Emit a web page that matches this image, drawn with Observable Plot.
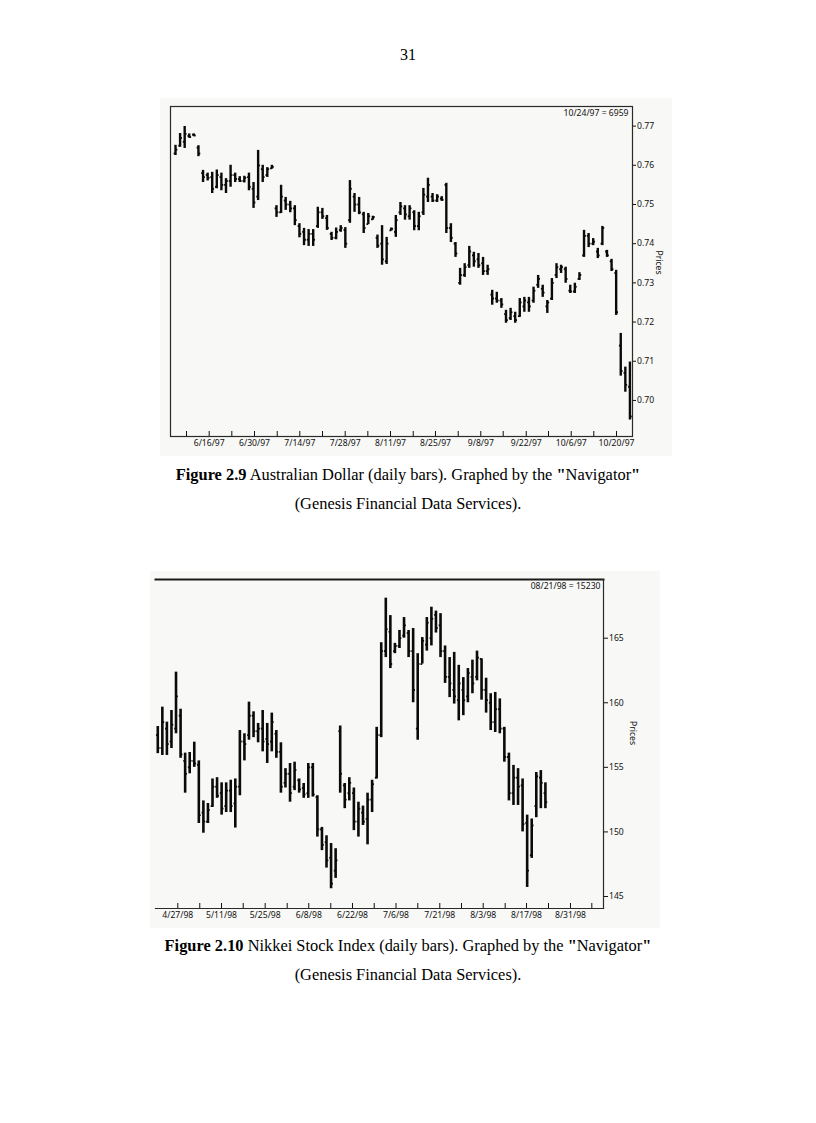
<!DOCTYPE html>
<html><head><meta charset="utf-8">
<script src="https://cdn.jsdelivr.net/npm/d3@7"></script>
<script src="https://cdn.jsdelivr.net/npm/@observablehq/plot@0.6"></script>
<style>
html,body{margin:0;padding:0;background:#fff;}
#page{position:relative;width:816px;height:1123px;overflow:hidden;background:#fff;}
.pn{position:absolute;left:0;width:816px;top:44px;text-align:center;font:16px "Liberation Serif","Times New Roman",serif;line-height:22px;color:#000;}
.cap{position:absolute;left:0;width:816px;text-align:center;font:16.4px "Liberation Serif","Times New Roman",serif;line-height:29px;color:#000;}
.chart{position:absolute;}
.chart svg{display:block;}
</style></head>
<body><div id="page">
<div class="pn">31</div>
<div class="chart" id="c1" style="left:160px;top:98px;"></div>
<div class="cap" style="top:460px;"><b>Figure 2.9</b> Australian Dollar (daily bars). Graphed by the <b>"</b>Navigator<b>"</b><br>(Genesis Financial Data Services).</div>
<div class="chart" id="c2" style="left:150px;top:571px;"></div>
<div class="cap" style="top:931px;"><b>Figure 2.10</b> Nikkei Stock Index (daily bars). Graphed by the <b>"</b>Navigator<b>"</b><br>(Genesis Financial Data Services).</div>
</div>
<script>
// ---------- Figure 2.9 : Australian Dollar daily bars ----------
const high1 = [.7651,.7681,.7699,.7680,.7680,.7650,.7587,.7580,.7582,.7588,
.7580,.7566,.7600,.7580,.7571,.7572,.7580,.7556,.7638,.7600,
.7594,.7600,.7497,.7549,.7518,.7508,.7497,.7451,.7439,.7436,
.7436,.7493,.7490,.7472,.7429,.7440,.7446,.7441,.7561,.7528,
.7518,.7480,.7477,.7470,.7422,.7446,.7416,.7440,.7472,.7505,
.7497,.7497,.7484,.7480,.7541,.7567,.7528,.7525,.7520,.7554,
.7451,.7403,.7337,.7349,.7393,.7378,.7375,.7365,.7345,.7281,
.7276,.7260,.7230,.7235,.7225,.7260,.7263,.7263,.7289,.7319,
.7294,.7255,.7311,.7349,.7345,.7340,.7294,.7299,.7326,.7434,
.7426,.7413,.7388,.7444,.7383,.7360,.7332,.7171,.7085,.7098];
const low1 = [.7625,.7646,.7643,.7669,.7673,.7622,.7556,.7560,.7528,.7540,
.7535,.7528,.7544,.7556,.7556,.7555,.7535,.7490,.7510,.7556,
.7569,.7590,.7467,.7477,.7485,.7479,.7446,.7415,.7395,.7393,
.7393,.7439,.7462,.7434,.7408,.7410,.7429,.7388,.7452,.7480,
.7474,.7426,.7449,.7460,.7388,.7345,.7347,.7432,.7416,.7472,
.7460,.7460,.7433,.7433,.7472,.7505,.7505,.7505,.7508,.7426,
.7403,.7365,.7294,.7314,.7337,.7340,.7337,.7319,.7319,.7243,
.7248,.7235,.7197,.7204,.7197,.7212,.7225,.7225,.7248,.7286,
.7263,.7222,.7255,.7311,.7324,.7299,.7273,.7273,.7306,.7365,
.7390,.7395,.7362,.7395,.7365,.7329,.7217,.7062,.7021,.6950];
const open1 = [.7630,.7650,.7660,.7675,.7678,.7645,.7580,.7575,.7570,.7545,
.7570,.7550,.7560,.7575,.7565,.7560,.7570,.7540,.7520,.7590,
.7575,.7592,.7490,.7480,.7510,.7500,.7490,.7445,.7430,.7410,
.7425,.7445,.7480,.7465,.7425,.7415,.7435,.7435,.7460,.7520,
.7500,.7475,.7450,.7462,.7415,.7400,.7355,.7434,.7430,.7480,
.7490,.7470,.7480,.7445,.7480,.7520,.7520,.7510,.7515,.7550,
.7440,.7400,.7300,.7320,.7345,.7370,.7360,.7350,.7330,.7270,
.7260,.7255,.7220,.7210,.7215,.7215,.7240,.7250,.7255,.7295,
.7285,.7240,.7260,.7320,.7335,.7335,.7280,.7278,.7310,.7370,
.7420,.7400,.7380,.7400,.7380,.7355,.7325,.7140,.7070,.7035];
const close1 = [.7640,.7670,.7680,.7672,.7676,.7630,.7570,.7568,.7540,.7575,
.7550,.7560,.7575,.7565,.7560,.7568,.7545,.7505,.7600,.7570,
.7590,.7596,.7480,.7520,.7500,.7490,.7460,.7425,.7410,.7425,
.7410,.7480,.7470,.7440,.7415,.7430,.7440,.7400,.7540,.7500,
.7480,.7440,.7470,.7468,.7395,.7360,.7400,.7438,.7460,.7495,
.7475,.7490,.7445,.7470,.7525,.7550,.7510,.7520,.7512,.7440,
.7415,.7375,.7320,.7340,.7380,.7355,.7345,.7330,.7335,.7260,
.7255,.7245,.7205,.7225,.7205,.7250,.7255,.7240,.7280,.7310,
.7275,.7250,.7300,.7340,.7340,.7310,.7278,.7290,.7320,.7420,
.7400,.7405,.7370,.7440,.7370,.7335,.7225,.7075,.7040,.6959];
// week tick positions (in bar-index units) and labelled dates
const weekTicks1 = [3.40,8.34,13.27,18.21,23.16,28.08,33.03,37.97,42.90,47.84,52.79,57.64,62.59,67.51,72.39,77.41,82.26,87.21,92.13,97.08];
const labelTicks1 = [8.34,18.21,28.08,37.97,47.84,57.64,67.51,77.41,87.21,97.08];
const labels1 = ["6/16/97","6/30/97","7/14/97","7/28/97","8/11/97","8/25/97","9/8/97","9/22/97","10/6/97","10/20/97"];
const yTicks1 = [0.70,0.71,0.72,0.73,0.74,0.75,0.76,0.77];
const lastNote1 = "10/24/97 = 6959";

// ---------- Figure 2.10 : Nikkei daily bars ----------
const high2 = [158.16,159.66,158.5,159.4,162.37,159.5,156.1,156.15,156.95,155.5,
152.4,152.2,154.1,154.2,153.8,153.8,154.0,154.1,157.85,157.6,
160.05,159.3,158.4,159.4,158.4,159.2,157.85,156.9,154.9,155.3,
155.4,154.1,153.75,155.3,155.3,152.8,150.35,149.7,149.1,148.7,
158.2,153.75,154.2,153.4,152.3,152.0,153.0,154.0,158.1,164.65,
168.1,166.75,164.6,165.6,166.6,165.6,165.75,163.8,165.05,166.6,
167.4,167.1,166.9,164.4,163.5,163.9,162.9,161.95,162.65,163.3,
164.0,163.4,161.9,160.7,160.8,160.3,158.1,156.1,155.15,154.9,
154.1,151.3,151.0,154.6,154.75,153.8];
const low2 = [156.06,155.92,155.92,156.46,157.6,155.7,153.0,154.5,155.0,150.65,
149.9,150.65,151.9,152.6,151.3,151.5,151.5,150.3,152.8,155.5,
157.1,157.3,156.9,156.2,155.3,156.2,155.7,153.0,153.4,152.3,
153.2,153.0,152.6,152.6,152.7,149.6,148.55,147.2,145.6,146.4,
153.0,151.8,152.4,150.1,149.6,150.5,149.0,151.5,154.1,157.3,
163.5,162.65,163.8,164.2,165.0,163.5,160.0,157.1,163.0,164.0,
164.4,165.4,163.5,161.5,160.4,159.9,158.6,159.0,160.0,160.7,
161.7,160.2,159.2,157.85,157.7,157.6,155.4,152.4,152.05,152.05,
150.0,145.7,147.95,151.1,151.8,151.8];
const open2 = [157.5,156.5,158.0,157.0,158.0,159.0,155.5,155.0,155.5,155.2,
151.5,150.8,152.0,153.5,153.0,152.0,153.2,152.2,153.5,157.0,
157.5,159.0,157.8,158.0,157.2,157.0,157.6,156.2,153.8,154.5,
153.5,154.0,153.4,153.0,155.0,152.7,150.2,149.2,148.0,147.0,
157.8,153.6,153.0,153.0,150.8,151.5,151.0,152.5,154.2,157.5,
164.0,165.5,164.0,164.4,165.2,165.4,164.0,158.0,163.0,164.5,
165.0,166.8,166.0,164.0,162.0,161.0,160.2,161.0,160.5,162.0,
162.0,163.4,161.0,160.0,158.5,159.5,158.0,155.8,153.0,154.2,
153.6,150.7,148.2,152.0,154.2,153.0];
const close2 = [156.5,158.5,156.8,158.3,160.5,156.0,154.5,155.5,155.3,151.3,
150.8,151.7,153.5,152.8,151.8,153.2,152.0,153.5,157.0,156.8,
159.0,157.8,158.0,157.0,156.8,158.5,156.2,153.5,154.5,153.0,
154.8,153.3,152.9,155.0,152.9,150.2,149.0,147.8,146.0,147.8,
154.5,152.5,153.8,150.8,151.8,150.8,152.5,153.7,157.5,164.0,
165.7,163.0,164.4,165.0,166.0,164.0,161.0,163.0,164.8,166.2,
166.5,165.8,164.0,162.0,161.5,160.5,161.5,160.2,162.3,161.5,
163.5,161.0,160.2,158.5,159.5,158.0,155.8,153.0,154.2,153.5,
150.6,147.0,150.5,154.3,153.8,152.3];
const weekTicks2 = [5.39,10.21,14.97,19.73,24.55,29.38,34.11,38.94,43.70,48.46,53.24,58.02,62.84,67.60,72.36,77.18,81.86,86.68,91.50,96.18];
const labelTicks2 = [5.39,14.97,24.55,34.11,43.70,53.24,62.84,72.36,81.86,91.50];
const labels2 = ["4/27/98","5/11/98","5/25/98","6/8/98","6/22/98","7/6/98","7/21/98","8/3/98","8/17/98","8/31/98"];
const yTicks2 = [145,150,155,160,165];
const lastNote2 = "08/21/98 = 15230";

const yTitle = "Prices";

function rows(h, l, o, c) {
  return h.map((v, k) => ({i: k + 1, high: v, low: l[k], open: o[k], close: c[k]}));
}

function chart(cfg) {
  const data = rows(cfg.high, cfg.low, cfg.open, cfg.close);
  const frameMarks = cfg.fullFrame
    ? [Plot.frame({stroke: "#2a2a2a", strokeWidth: 1.2})]
    : [Plot.frame({anchor: "top", stroke: "#1a1a1a", strokeWidth: 2}),
       Plot.frame({anchor: "right", stroke: "#2a2a2a", strokeWidth: 1.2}),
       Plot.frame({anchor: "bottom", stroke: "#2a2a2a", strokeWidth: 1.2})];
  return Plot.plot({
    width: cfg.width, height: cfg.height,
    marginLeft: cfg.ml, marginRight: cfg.mr, marginTop: cfg.mt, marginBottom: cfg.mb,
    style: {background: "#f8f8f6", fontFamily: "'Noto Sans', 'DejaVu Sans', sans-serif", fontSize: "8.6px", color: "#111", overflow: "visible"},
    x: {type: "linear", domain: cfg.xDomain},
    y: {type: "linear", domain: cfg.yDomain},
    marks: [
      ...frameMarks,
      Plot.axisY(cfg.yTicks, {anchor: "right", tickSize: cfg.yTickSize, tickPadding: 1.5, tickFormat: cfg.yFormat, label: null}),
      Plot.axisX(cfg.weekTicks, {anchor: "bottom", tickSize: -5, tickFormat: () => "", label: null}),
      Plot.axisX(cfg.labelTicks, {anchor: "bottom", tickSize: 0, tickPadding: 3.5, tickFormat: d => cfg.labels[cfg.labelTicks.indexOf(d)], label: null}),
      Plot.ruleX(data, {x: "i", y1: "low", y2: "high", stroke: "#0a0a0a", strokeWidth: cfg.barWidth}),
      Plot.link(data, {x1: d => d.i - 0.4, x2: "i", y1: "open", y2: "open", stroke: "#0a0a0a", strokeWidth: 1.8}),
      Plot.link(data, {x1: "i", x2: d => d.i + 0.4, y1: "close", y2: "close", stroke: "#0a0a0a", strokeWidth: 1.8}),
      Plot.text([cfg.note], {frameAnchor: "top-right", dx: cfg.noteDx, dy: 7, lineAnchor: "middle", text: d => d}),
      Plot.text([yTitle], {frameAnchor: "right", dx: cfg.titleDx, dy: cfg.titleDy, rotate: 90, text: d => d})
    ]
  });
}

document.getElementById("c1").appendChild(chart({
  high: high1, low: low1, open: open1, close: close1,
  width: 512, height: 358, ml: 10, mr: 40, mt: 8, mb: 20,
  xDomain: [-0.09, 100.56], yDomain: [0.6908, 0.7750],
  yTicks: yTicks1, yFormat: d3.format(".2f"), yTickSize: 3,
  weekTicks: weekTicks1, labelTicks: labelTicks1, labels: labels1,
  note: lastNote1, noteDx: -4, titleDx: 26, titleDy: 3,
  fullFrame: true, barWidth: 2.4
}));

document.getElementById("c2").appendChild(chart({
  high: high2, low: low2, open: open2, close: close2,
  width: 510, height: 357, ml: 5, mr: 57, mt: 8, mb: 20,
  xDomain: [0.5, 98.74], yDomain: [144.07, 169.545],
  yTicks: yTicks2, yFormat: d => String(d), yTickSize: 4,
  weekTicks: weekTicks2, labelTicks: labelTicks2, labels: labels2,
  note: lastNote2, noteDx: -3, titleDx: 29, titleDy: 1,
  fullFrame: false, barWidth: 2.6
}));
</script>
</body></html>
